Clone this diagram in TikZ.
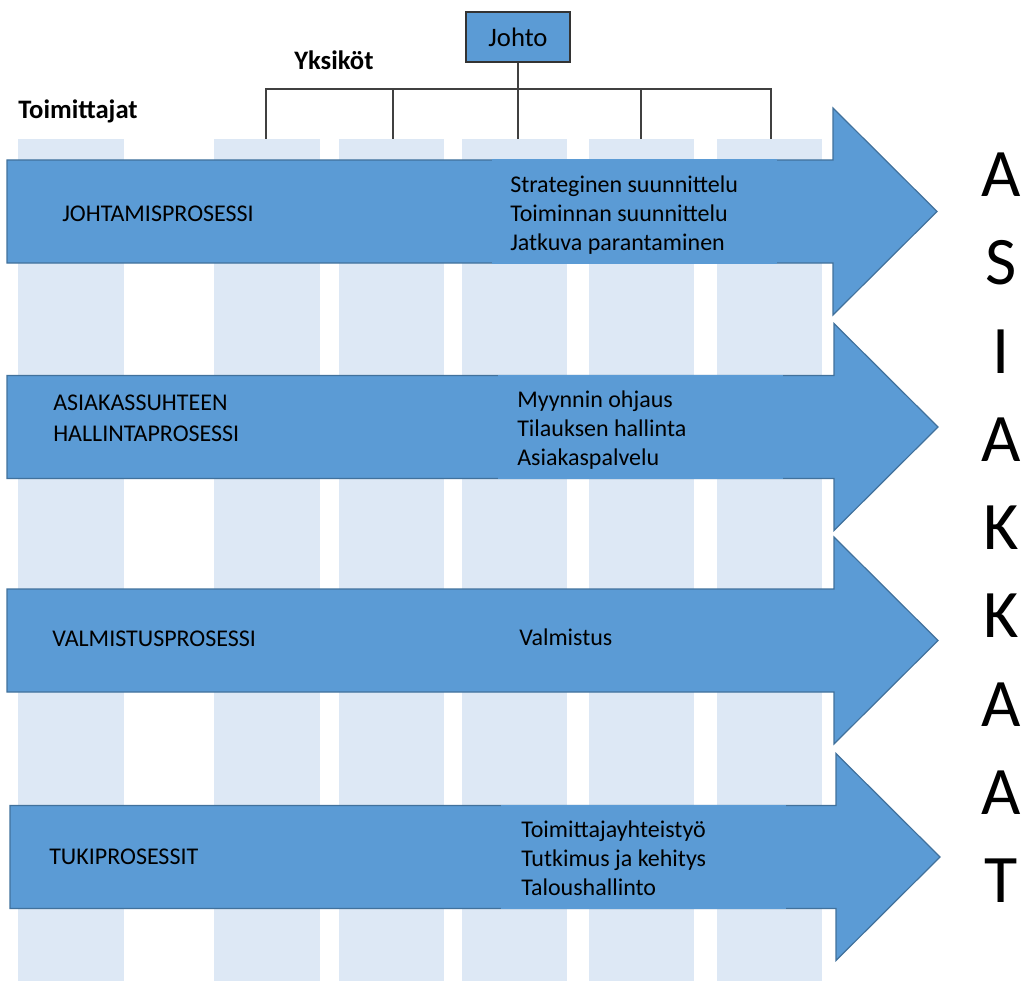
\documentclass[tikz,border=0pt]{standalone}
\usepackage{fontspec}
\setmainfont{Carlito}
\definecolor{arrowblue}{HTML}{5B9BD5}
\definecolor{arrowline}{HTML}{41719C}
\definecolor{lane}{HTML}{DDE8F5}
\definecolor{orgline}{HTML}{404040}

\begin{document}
\begin{tikzpicture}[x=0.75pt,y=-0.75pt,
  lanebox/.style={fill=lane},
  procarrow/.style={fill=arrowblue, draw=arrowline, line width=0.9pt, line join=miter},
  cover/.style={fill=arrowblue},
  proclabel/.style={anchor=base west, inner sep=0pt, align=left,
    font=\fontsize{18}{21.75}\selectfont},
  toplabel/.style={anchor=base west, inner sep=0pt,
    font=\fontsize{20}{24}\selectfont\bfseries},
  orgbox/.style={fill=arrowblue, draw=black!80, line width=0.9pt,
    minimum width=78pt, minimum height=37.5pt, inner sep=0pt,
    font=\fontsize{20}{24}\selectfont},
  orgedge/.style={draw=orgline, line width=0.9pt},
  customer/.style={anchor=base, inner sep=0pt, font=\fontsize{51}{60}\selectfont}
]
\useasboundingbox (0,0) rectangle (1022,981);

% unit lanes
\foreach \a/\b in {18/124, 214/320, 339/444, 462/567, 589/694, 717/822}
  \fill[lanebox] (\a,139) rectangle (\b,981);

% management and the units under it
\node[orgbox] (johto) at (518,37) {Johto};
\coordinate (u1) at (266,139);
\coordinate (u2) at (393,139);
\coordinate (u3) at (518,139);
\coordinate (u4) at (641,139);
\coordinate (u5) at (771,139);
\coordinate (bus) at (518,89);
\draw[orgedge] (johto.south) -- (u3);
\draw[orgedge] (u1) |- (bus) -| (u5);
\draw[orgedge] (u2) -- (u2 |- bus);
\draw[orgedge] (u4) -- (u4 |- bus);

\node[toplabel] (yksikot) at (294,70) {Yksiköt};
\node[toplabel] (toimittajat) at (18,118) {Toimittajat};

% process arrows
\foreach \L/\B/\T/\c in {7/833/937/211.5, 7/834/938/427, 7/834/938/640.5, 10/836/940/857}
  \draw[procarrow] (\L,\c-51.5) -- (\B,\c-51.5) -- (\B,\c-103.5) -- (\T,\c)
    -- (\B,\c+103.5) -- (\B,\c+51.5) -- (\L,\c+51.5) -- cycle;

% text panels laid over the arrows
\fill[cover] (492,159.3) rectangle (777,263.7);
\fill[cover] (498,375.3) rectangle (783,478.7);
\fill[cover] (501,805.3) rectangle (786,908.7);

% multi-line labels are placed by the baseline of their last line
\node[proclabel] (p1) at (62,221) {JOHTAMISPROSESSI};
\node[proclabel] (t1) at (510,250) {Strateginen suunnittelu\\Toiminnan suunnittelu\\Jatkuva parantaminen};

\node[proclabel, font=\fontsize{18}{23.25}\selectfont] (p2) at (53,441) {ASIAKASSUHTEEN\\HALLINTAPROSESSI};
\node[proclabel] (t2) at (517,465) {Myynnin ohjaus\\Tilauksen hallinta\\Asiakaspalvelu};

\node[proclabel] (p3) at (52,646) {VALMISTUSPROSESSI};
\node[proclabel] (t3) at (519,645) {Valmistus};

\node[proclabel] (p4) at (49,864) {TUKIPROSESSIT};
\node[proclabel] (t4) at (521,895) {Toimittajayhteistyö\\Tutkimus ja kehitys\\Taloushallinto};

% customers
\foreach \ch [count=\k from 0] in {A,S,I,A,K,K,A,A,T}
  \node[customer] (c\k) at (1001,{196.5+88.25*\k}) {\ch};
\end{tikzpicture}
\end{document}
